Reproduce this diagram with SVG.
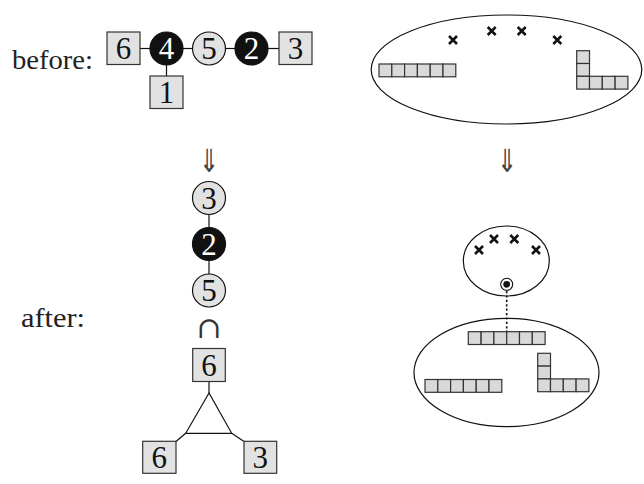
<svg xmlns="http://www.w3.org/2000/svg" width="644" height="484" viewBox="0 0 644 484">
<defs>
<style>
.lbl{font-family:"Liberation Serif","DejaVu Serif",serif;font-size:28px;fill:#222}
.dig{font-family:"Liberation Serif","DejaVu Serif",serif;font-size:31px;fill:#111;text-anchor:middle}
.dw{fill:#fff}
.sym{font-family:"DejaVu Serif","DejaVu Sans",serif;fill:#333;text-anchor:middle}
.arr{font-family:"DejaVu Sans",sans-serif;fill:#444;text-anchor:middle}
.box{fill:#e2e2e2;stroke:#333;stroke-width:1.2}
.cg{fill:#e2e2e2;stroke:#111;stroke-width:1.2}
.cb{fill:#111;stroke:#111;stroke-width:1.2}
.edge{stroke:#111;stroke-width:1.2;fill:none}
.cell{fill:#d9d9d9;stroke:#333;stroke-width:1.2}
.ell{fill:none;stroke:#111;stroke-width:1.2}
.x{stroke:#111;stroke-width:2.5;fill:none}
</style>
<g id="cell6">
<rect class="cell" x="0" y="0" width="12.8" height="12.8"/><rect class="cell" x="12.8" y="0" width="12.8" height="12.8"/><rect class="cell" x="25.6" y="0" width="12.8" height="12.8"/><rect class="cell" x="38.4" y="0" width="12.8" height="12.8"/><rect class="cell" x="51.2" y="0" width="12.8" height="12.8"/><rect class="cell" x="64" y="0" width="12.8" height="12.8"/>
</g>
<g id="cellL">
<rect class="cell" x="0" y="0" width="12.8" height="12.8"/><rect class="cell" x="0" y="12.8" width="12.8" height="12.8"/><rect class="cell" x="0" y="25.6" width="12.8" height="12.8"/><rect class="cell" x="12.8" y="25.6" width="12.8" height="12.8"/><rect class="cell" x="25.6" y="25.6" width="12.8" height="12.8"/><rect class="cell" x="38.4" y="25.6" width="12.8" height="12.8"/>
</g>
<path id="xm" class="x" d="M-4,-4L4,4M-4,4L4,-4"/>
</defs>

<text class="lbl" x="12" y="69" textLength="81" lengthAdjust="spacingAndGlyphs">before:</text>
<text class="lbl" x="21" y="327" textLength="64" lengthAdjust="spacingAndGlyphs">after:</text>

<g id="connectors">
<line class="edge" x1="140" y1="48.5" x2="150" y2="48.5"/>
<line class="edge" x1="183" y1="48.5" x2="192.5" y2="48.5"/>
<line class="edge" x1="225.5" y1="48.5" x2="235" y2="48.5"/>
<line class="edge" x1="268" y1="48.5" x2="279" y2="48.5"/>
<line class="edge" x1="166.5" y1="65" x2="166.5" y2="76"/>
<line class="edge" x1="209" y1="214.5" x2="209" y2="227.5"/>
<line class="edge" x1="209" y1="260.5" x2="209" y2="274"/>
<line class="edge" x1="209" y1="381.7" x2="209" y2="393"/>
<polygon class="edge" points="209,393 185.7,433.3 231.7,433.3"/>
<line class="edge" x1="185.7" y1="433.3" x2="176" y2="441.5"/>
<line class="edge" x1="231.7" y1="433.3" x2="244" y2="441.5"/>
<line x1="506.7" y1="291" x2="506.7" y2="338" stroke="#111" stroke-width="1.6" stroke-dasharray="2.2,2.2"/>
</g>

<g id="n-b6"><rect class="box" x="107" y="32" width="33" height="32.5"/><text class="dig" x="123.5" y="59">6</text></g>
<g id="n-b4"><circle class="cb" cx="166.5" cy="48.5" r="16.5"/><text class="dig dw" x="166.5" y="59">4</text></g>
<g id="n-b5"><circle class="cg" cx="209" cy="48.5" r="16.5"/><text class="dig" x="209" y="59">5</text></g>
<g id="n-b2"><circle class="cb" cx="251.5" cy="48.5" r="16.5"/><text class="dig dw" x="251.5" y="59">2</text></g>
<g id="n-b3"><rect class="box" x="279" y="32" width="33" height="32.5"/><text class="dig" x="295.5" y="59">3</text></g>
<g id="n-b1"><rect class="box" x="150" y="76" width="33" height="32.5"/><text class="dig" x="166.5" y="103">1</text></g>

<g id="arrow-left"><text class="arr" transform="translate(209,172) scale(0.75,1)" font-size="32">⇓</text></g>
<g id="arrow-right"><text class="arr" transform="translate(507,172) scale(0.75,1)" font-size="32">⇓</text></g>

<g id="n-a3"><circle class="cg" cx="209" cy="198" r="16.5"/><text class="dig" x="209" y="208.5">3</text></g>
<g id="n-a2"><circle class="cb" cx="209" cy="244" r="16.5"/><text class="dig dw" x="209" y="254.5">2</text></g>
<g id="n-a5"><circle class="cg" cx="209" cy="290.5" r="16.5"/><text class="dig" x="209" y="301">5</text></g>
<g id="cap"><text class="sym" x="209" y="338" font-size="30">∩</text></g>
<g id="n-a6"><rect class="box" x="192.7" y="348.5" width="32.6" height="33"/><text class="dig" x="209" y="375.5">6</text></g>
<g id="n-a6b"><rect class="box" x="142.7" y="441.3" width="33.3" height="32"/><text class="dig" x="159.3" y="468">6</text></g>
<g id="n-a3b"><rect class="box" x="244" y="441.3" width="32.7" height="32"/><text class="dig" x="260.3" y="468">3</text></g>

<g id="top-ellipse">
<ellipse class="ell" cx="506.5" cy="69.5" rx="135.3" ry="54.5"/>
<use href="#xm" x="453" y="40"/><use href="#xm" x="491.7" y="31"/><use href="#xm" x="521.7" y="31"/><use href="#xm" x="557.3" y="40"/>
<use href="#cell6" x="379" y="64"/>
<use href="#cellL" x="576.7" y="50.7"/>
</g>

<g id="small-ellipse">
<ellipse class="ell" cx="506.3" cy="261" rx="43" ry="35"/>
<use href="#xm" x="479" y="250"/><use href="#xm" x="494" y="239"/><use href="#xm" x="514.3" y="239"/><use href="#xm" x="536" y="250"/>
<circle cx="506.7" cy="284.3" r="6" fill="#fff" stroke="#111" stroke-width="1.1"/>
<circle cx="506.7" cy="284.3" r="3.4" fill="#111"/>
</g>

<g id="big-ellipse">
<ellipse class="ell" cx="506.5" cy="372.5" rx="92.5" ry="54.2"/>
<use href="#cell6" x="468.3" y="331.7"/>
<use href="#cell6" x="425" y="379.5"/>
<use href="#cellL" x="537.7" y="353.3"/>
</g>
</svg>
